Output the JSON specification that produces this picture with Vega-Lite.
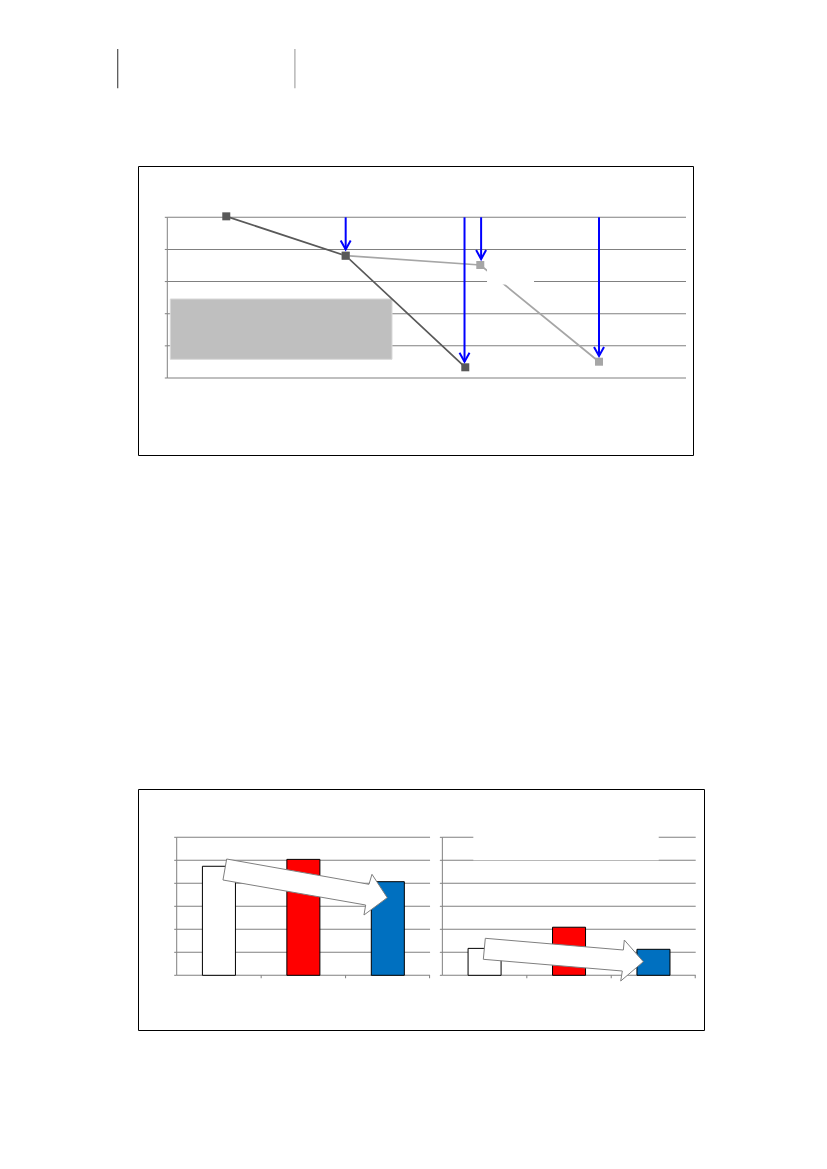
{
  "$schema": "https://vega.github.io/schema/vega-lite/v6.json",
  "background": "white",
  "padding": {"left": 116, "top": 48, "right": 5, "bottom": 5},
  "config": {"view": {"stroke": "#000000", "strokeWidth": 1}, "tick": {"opacity": 1}},
  "datasets": {
    "topGrid": [{"v": 0}, {"v": 1}, {"v": 2}, {"v": 3}, {"v": 4}, {"v": 5}],
    "series": [
      {"series": "A", "x": 11.37, "y": 5.03},
      {"series": "A", "x": 34.39, "y": 3.805},
      {"series": "A", "x": 57.45, "y": 0.333},
      {"series": "B", "x": 34.39, "y": 3.805},
      {"series": "B", "x": 60.34, "y": 3.516},
      {"series": "B", "x": 83.23, "y": 0.507}
    ],
    "drops": [
      {"x": 34.39, "from": 5, "to": 4.0},
      {"x": 57.3, "from": 5, "to": 0.507},
      {"x": 60.5, "from": 5, "to": 3.7},
      {"x": 83.23, "from": 5, "to": 0.684}
    ],
    "panels": [{"panel": "L"}, {"panel": "R"}],
    "barGrid": [
      {"panel": "L", "v": 0}, {"panel": "L", "v": 1}, {"panel": "L", "v": 2}, {"panel": "L", "v": 3},
      {"panel": "L", "v": 4}, {"panel": "L", "v": 5}, {"panel": "L", "v": 6},
      {"panel": "R", "v": 0}, {"panel": "R", "v": 1}, {"panel": "R", "v": 2}, {"panel": "R", "v": 3},
      {"panel": "R", "v": 4}, {"panel": "R", "v": 5}, {"panel": "R", "v": 6}
    ],
    "bars": [
      {"panel": "L", "cat": "A", "value": 4.74},
      {"panel": "L", "cat": "B", "value": 5.04},
      {"panel": "L", "cat": "C", "value": 4.07},
      {"panel": "R", "cat": "A", "value": 1.17},
      {"panel": "R", "cat": "B", "value": 2.09},
      {"panel": "R", "cat": "C", "value": 1.13}
    ]
  },
  "spacing": 332,
  "vconcat": [
    {
      "width": 555,
      "height": 289,
      "layer": [
        {
          "data": {"values": [{}]},
          "mark": {"type": "tick", "orient": "vertical", "size": 39.3, "thickness": 1.2, "opacity": 1, "color": "#4D4D4D"},
          "encoding": {
            "x": {"datum": -9.56, "type": "quantitative", "axis": null, "scale": {"domain": [0, 100], "range": [29.3, 548], "nice": false, "zero": false}},
            "y": {"datum": 9.625, "type": "quantitative", "axis": null, "scale": {"domain": [0, 5], "range": [212, 51.3], "nice": false, "zero": false}}
          }
        },
        {
          "data": {"values": [{}]},
          "mark": {"type": "tick", "orient": "vertical", "size": 39.3, "thickness": 1.2, "opacity": 1, "color": "#A6A6A6"},
          "encoding": {
            "x": {"datum": 24.6, "type": "quantitative", "axis": null, "scale": {"domain": [0, 100], "range": [29.3, 548], "nice": false, "zero": false}},
            "y": {"datum": 9.625, "type": "quantitative", "axis": null, "scale": {"domain": [0, 5], "range": [212, 51.3], "nice": false, "zero": false}}
          }
        },
        {
          "data": {"name": "topGrid"},
          "mark": {"type": "tick", "orient": "horizontal", "size": 518.7, "thickness": 1, "opacity": 1, "color": "#808080"},
          "encoding": {
            "x": {"datum": 50, "type": "quantitative", "axis": null, "scale": {"domain": [0, 100], "range": [29.3, 548], "nice": false, "zero": false}},
            "y": {"field": "v", "type": "quantitative", "axis": null, "scale": {"domain": [0, 5], "range": [212, 51.3], "nice": false, "zero": false}}
          }
        },
        {
          "data": {"name": "topGrid"},
          "mark": {"type": "tick", "orient": "horizontal", "size": 2.5, "thickness": 1, "xOffset": -1.25, "opacity": 1, "color": "#808080"},
          "encoding": {
            "x": {"datum": 0, "type": "quantitative", "axis": null, "scale": {"domain": [0, 100], "range": [29.3, 548], "nice": false, "zero": false}},
            "y": {"field": "v", "type": "quantitative", "axis": null, "scale": {"domain": [0, 5], "range": [212, 51.3], "nice": false, "zero": false}}
          }
        },
        {
          "data": {"values": [{}]},
          "mark": {"type": "tick", "orient": "vertical", "size": 160.7, "thickness": 1, "opacity": 1, "color": "#808080"},
          "encoding": {
            "x": {"datum": 0, "type": "quantitative", "axis": null, "scale": {"domain": [0, 100], "range": [29.3, 548], "nice": false, "zero": false}},
            "y": {"datum": 2.5, "type": "quantitative", "axis": null, "scale": {"domain": [0, 5], "range": [212, 51.3], "nice": false, "zero": false}}
          }
        },
        {
          "data": {"values": [{}]},
          "mark": {"type": "tick", "orient": "horizontal", "size": 221.7, "thickness": 60.3, "opacity": 1, "color": "#BFBFBF", "stroke": "#D9D9D9", "strokeWidth": 1},
          "encoding": {
            "x": {"datum": 21.95, "type": "quantitative", "axis": null, "scale": {"domain": [0, 100], "range": [29.3, 548], "nice": false, "zero": false}},
            "y": {"datum": 1.52, "type": "quantitative", "axis": null, "scale": {"domain": [0, 5], "range": [212, 51.3], "nice": false, "zero": false}}
          }
        },
        {
          "data": {"name": "series"},
          "transform": [{"filter": "datum.series == 'B'"}],
          "mark": {"type": "line", "color": "#A6A6A6", "strokeWidth": 1.75},
          "encoding": {
            "x": {"field": "x", "type": "quantitative", "axis": null, "scale": {"domain": [0, 100], "range": [29.3, 548], "nice": false, "zero": false}},
            "y": {"field": "y", "type": "quantitative", "axis": null, "scale": {"domain": [0, 5], "range": [212, 51.3], "nice": false, "zero": false}}
          }
        },
        {
          "data": {"name": "series"},
          "transform": [{"filter": "datum.series == 'A'"}],
          "mark": {"type": "line", "color": "#595959", "strokeWidth": 1.75},
          "encoding": {
            "x": {"field": "x", "type": "quantitative", "axis": null, "scale": {"domain": [0, 100], "range": [29.3, 548], "nice": false, "zero": false}},
            "y": {"field": "y", "type": "quantitative", "axis": null, "scale": {"domain": [0, 5], "range": [212, 51.3], "nice": false, "zero": false}}
          }
        },
        {
          "data": {"values": [{}]},
          "mark": {"type": "tick", "orient": "horizontal", "size": 47, "thickness": 16.5, "opacity": 1, "color": "#FFFFFF"},
          "encoding": {
            "x": {"datum": 66.17, "type": "quantitative", "axis": null, "scale": {"domain": [0, 100], "range": [29.3, 548], "nice": false, "zero": false}},
            "y": {"datum": 3.165, "type": "quantitative", "axis": null, "scale": {"domain": [0, 5], "range": [212, 51.3], "nice": false, "zero": false}}
          }
        },
        {
          "data": {"name": "series"},
          "transform": [{"filter": "datum.series == 'B'"}],
          "mark": {"type": "point", "shape": "square", "size": 64, "filled": true, "opacity": 1, "color": "#A6A6A6"},
          "encoding": {
            "x": {"field": "x", "type": "quantitative", "axis": null, "scale": {"domain": [0, 100], "range": [29.3, 548], "nice": false, "zero": false}},
            "y": {"field": "y", "type": "quantitative", "axis": null, "scale": {"domain": [0, 5], "range": [212, 51.3], "nice": false, "zero": false}}
          }
        },
        {
          "data": {"name": "series"},
          "transform": [{"filter": "datum.series == 'A'"}],
          "mark": {"type": "point", "shape": "square", "size": 64, "filled": true, "opacity": 1, "color": "#595959"},
          "encoding": {
            "x": {"field": "x", "type": "quantitative", "axis": null, "scale": {"domain": [0, 100], "range": [29.3, 548], "nice": false, "zero": false}},
            "y": {"field": "y", "type": "quantitative", "axis": null, "scale": {"domain": [0, 5], "range": [212, 51.3], "nice": false, "zero": false}}
          }
        },
        {
          "data": {"name": "drops"},
          "mark": {"type": "rule", "color": "#0000FF", "strokeWidth": 2},
          "encoding": {
            "x": {"field": "x", "type": "quantitative", "axis": null, "scale": {"domain": [0, 100], "range": [29.3, 548], "nice": false, "zero": false}},
            "y": {"field": "from", "type": "quantitative", "axis": null, "scale": {"domain": [0, 5], "range": [212, 51.3], "nice": false, "zero": false}},
            "y2": {"field": "to"}
          }
        },
        {
          "data": {"name": "drops"},
          "mark": {"type": "point", "shape": "M-1,-1.8L0,0L1,-1.8", "size": 100, "filled": false, "opacity": 1, "stroke": "#0000FF", "strokeWidth": 2},
          "encoding": {
            "x": {"field": "x", "type": "quantitative", "axis": null, "scale": {"domain": [0, 100], "range": [29.3, 548], "nice": false, "zero": false}},
            "y": {"field": "to", "type": "quantitative", "axis": null, "scale": {"domain": [0, 5], "range": [212, 51.3], "nice": false, "zero": false}}
          }
        }
      ]
    },
    {
      "width": 566,
      "height": 241,
      "layer": [
        {
          "data": {"name": "barGrid"},
          "mark": {"type": "tick", "orient": "horizontal", "size": 253.35, "thickness": 1, "opacity": 1, "color": "#808080"},
          "encoding": {
            "x": {"field": "panel", "type": "nominal", "axis": null, "scale": {"type": "band", "domain": ["L", "R"], "range": [38.7, 557.7], "paddingInner": 0.0463, "paddingOuter": 0}},
            "y": {"field": "v", "type": "quantitative", "axis": null, "scale": {"domain": [0, 6], "range": [186.3, 48.3], "nice": false, "zero": false}}
          }
        },
        {
          "data": {"name": "panels"},
          "transform": [{"filter": "datum.panel == 'R'"}],
          "mark": {"type": "tick", "orient": "horizontal", "size": 185.4, "thickness": 31.3, "xOffset": -3, "opacity": 1, "color": "#FFFFFF"},
          "encoding": {
            "x": {"field": "panel", "type": "nominal", "axis": null, "scale": {"type": "band", "domain": ["L", "R"], "range": [38.7, 557.7], "paddingInner": 0.0463, "paddingOuter": 0}},
            "y": {"datum": 5.68, "type": "quantitative", "axis": null, "scale": {"domain": [0, 6], "range": [186.3, 48.3], "nice": false, "zero": false}}
          }
        },
        {
          "data": {"name": "barGrid"},
          "mark": {"type": "tick", "orient": "horizontal", "size": 2.5, "thickness": 1, "xOffset": -127.93, "opacity": 1, "color": "#808080"},
          "encoding": {
            "x": {"field": "panel", "type": "nominal", "axis": null, "scale": {"type": "band", "domain": ["L", "R"], "range": [38.7, 557.7], "paddingInner": 0.0463, "paddingOuter": 0}},
            "y": {"field": "v", "type": "quantitative", "axis": null, "scale": {"domain": [0, 6], "range": [186.3, 48.3], "nice": false, "zero": false}}
          }
        },
        {
          "data": {"name": "panels"},
          "mark": {"type": "tick", "orient": "vertical", "size": 138, "thickness": 1, "opacity": 1, "color": "#808080"},
          "encoding": {
            "x": {"field": "panel", "type": "nominal", "bandPosition": 0, "axis": null, "scale": {"type": "band", "domain": ["L", "R"], "range": [38.7, 557.7], "paddingInner": 0.0463, "paddingOuter": 0}},
            "y": {"datum": 3, "type": "quantitative", "axis": null, "scale": {"domain": [0, 6], "range": [186.3, 48.3], "nice": false, "zero": false}}
          }
        },
        {
          "data": {"name": "panels"},
          "mark": {"type": "tick", "orient": "vertical", "size": 3, "thickness": 1, "xOffset": -42.2, "yOffset": 1.5, "opacity": 1, "color": "#808080"},
          "encoding": {
            "x": {"field": "panel", "type": "nominal", "axis": null, "scale": {"type": "band", "domain": ["L", "R"], "range": [38.7, 557.7], "paddingInner": 0.0463, "paddingOuter": 0}},
            "y": {"datum": 0, "type": "quantitative", "axis": null, "scale": {"domain": [0, 6], "range": [186.3, 48.3], "nice": false, "zero": false}}
          }
        },
        {
          "data": {"name": "panels"},
          "mark": {"type": "tick", "orient": "vertical", "size": 3, "thickness": 1, "xOffset": 42.2, "yOffset": 1.5, "opacity": 1, "color": "#808080"},
          "encoding": {
            "x": {"field": "panel", "type": "nominal", "axis": null, "scale": {"type": "band", "domain": ["L", "R"], "range": [38.7, 557.7], "paddingInner": 0.0463, "paddingOuter": 0}},
            "y": {"datum": 0, "type": "quantitative", "axis": null, "scale": {"domain": [0, 6], "range": [186.3, 48.3], "nice": false, "zero": false}}
          }
        },
        {
          "data": {"name": "panels"},
          "mark": {"type": "tick", "orient": "vertical", "size": 3, "thickness": 1, "xOffset": 126.2, "yOffset": 1.5, "opacity": 1, "color": "#808080"},
          "encoding": {
            "x": {"field": "panel", "type": "nominal", "axis": null, "scale": {"type": "band", "domain": ["L", "R"], "range": [38.7, 557.7], "paddingInner": 0.0463, "paddingOuter": 0}},
            "y": {"datum": 0, "type": "quantitative", "axis": null, "scale": {"domain": [0, 6], "range": [186.3, 48.3], "nice": false, "zero": false}}
          }
        },
        {
          "data": {"name": "bars"},
          "mark": {"type": "bar", "stroke": "#000000", "strokeWidth": 1},
          "encoding": {
            "x": {"field": "panel", "type": "nominal", "axis": null, "scale": {"type": "band", "domain": ["L", "R"], "range": [38.7, 557.7], "paddingInner": 0.0463, "paddingOuter": 0}},
            "xOffset": {"field": "cat", "type": "nominal", "scale": {"domain": ["A", "B", "C"], "paddingInner": 0.609, "paddingOuter": 0.3046}},
            "y": {"field": "value", "type": "quantitative", "stack": null, "axis": null, "scale": {"domain": [0, 6], "range": [186.3, 48.3], "nice": false, "zero": false}},
            "color": {"field": "cat", "type": "nominal", "legend": null, "scale": {"domain": ["A", "B", "C"], "range": ["#FFFFFF", "#FF0000", "#0070C0"]}}
          }
        },
        {
          "data": {"name": "panels"},
          "transform": [{"filter": "datum.panel == 'L'"}],
          "mark": {"type": "point", "shape": "M-0.767,-0.28L0.656,-0.027L0.686,-0.127L0.839,0.107L0.606,0.28L0.623,0.18L-0.804,-0.07Z", "size": 40000, "filled": true, "opacity": 1, "fill": "#FFFFFF", "stroke": "#7F7F7F", "strokeWidth": 1},
          "encoding": {
            "x": {"field": "panel", "type": "nominal", "axis": null, "scale": {"type": "band", "domain": ["L", "R"], "range": [38.7, 557.7], "paddingInner": 0.0463, "paddingOuter": 0}},
            "y": {"datum": 3.839, "type": "quantitative", "axis": null, "scale": {"domain": [0, 6], "range": [186.3, 48.3], "nice": false, "zero": false}}
          }
        },
        {
          "data": {"name": "panels"},
          "transform": [{"filter": "datum.panel == 'R'"}],
          "mark": {"type": "point", "shape": "M-0.837,-0.217L0.543,-0.1L0.553,-0.2L0.743,0.017L0.517,0.21L0.533,0.11L-0.857,-0.007Z", "size": 40000, "filled": true, "opacity": 1, "fill": "#FFFFFF", "stroke": "#7F7F7F", "strokeWidth": 1},
          "encoding": {
            "x": {"field": "panel", "type": "nominal", "axis": null, "scale": {"type": "band", "domain": ["L", "R"], "range": [38.7, 557.7], "paddingInner": 0.0463, "paddingOuter": 0}},
            "y": {"datum": 0.665, "type": "quantitative", "axis": null, "scale": {"domain": [0, 6], "range": [186.3, 48.3], "nice": false, "zero": false}}
          }
        }
      ]
    }
  ]
}
